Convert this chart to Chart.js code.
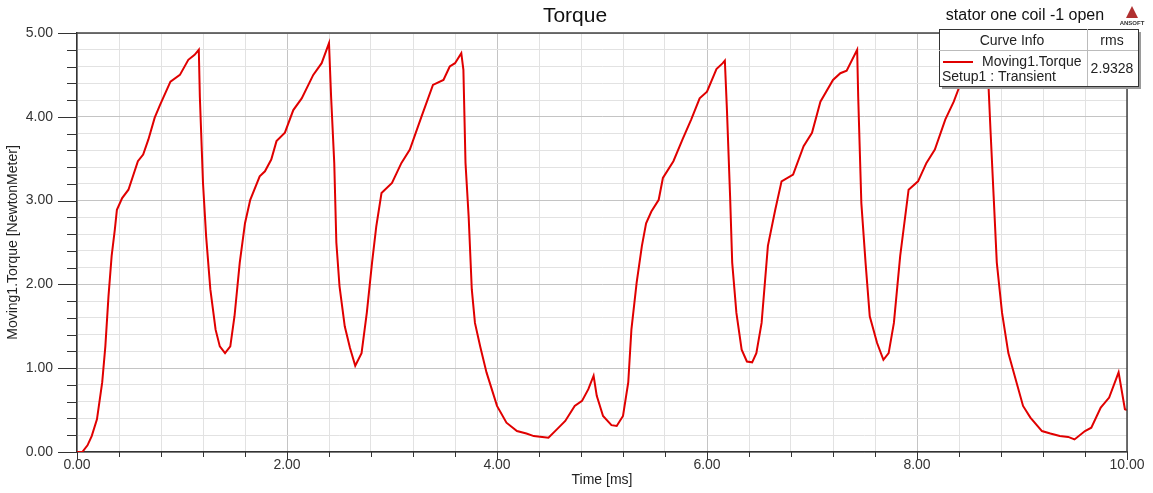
<!DOCTYPE html>
<html>
<head>
<meta charset="utf-8">
<script src="https://cdn.jsdelivr.net/npm/chart.js@4"></script>
<style>
  body { margin: 0; background: #fff; }
  #wrap { width: 1153px; height: 493px; position: relative; }
</style>
</head>
<body>
<div id="wrap"><canvas id="graph"></canvas></div>
<script>
// Time [ms]
const timeMs = [0, 0.05, 0.10, 0.14, 0.19, 0.24, 0.27, 0.30, 0.33, 0.36, 0.38, 0.43, 0.49, 0.58, 0.63, 0.68, 0.74, 0.79, 0.89, 0.98,
  1.06, 1.12, 1.16, 1.17, 1.20, 1.23, 1.27, 1.32, 1.36, 1.41, 1.46, 1.50, 1.55, 1.60, 1.65, 1.74, 1.79, 1.85, 1.90, 1.98,
  2.06, 2.14, 2.25, 2.33, 2.40, 2.42, 2.45, 2.47, 2.50, 2.55, 2.60, 2.65, 2.71, 2.76, 2.81, 2.85, 2.90, 3.00, 3.09, 3.17,
  3.28, 3.39, 3.49, 3.55, 3.60, 3.66, 3.68, 3.70, 3.73, 3.76, 3.79, 3.84, 3.90, 4.00, 4.09, 4.19, 4.28, 4.35, 4.43, 4.49,
  4.57, 4.65, 4.74, 4.81, 4.87, 4.92, 4.95, 5.01, 5.09, 5.14, 5.20, 5.25, 5.28, 5.33, 5.38, 5.42, 5.47, 5.54, 5.58, 5.68,
  5.77, 5.85, 5.93, 6.00, 6.09, 6.15, 6.17, 6.19, 6.22, 6.24, 6.28, 6.33, 6.38, 6.43, 6.47, 6.52, 6.58, 6.65, 6.71, 6.82,
  6.92, 7.00, 7.08, 7.20, 7.27, 7.33, 7.43, 7.44, 7.47, 7.51, 7.55, 7.62, 7.68, 7.73, 7.78, 7.84, 7.92, 8.01, 8.09, 8.17,
  8.27, 8.35, 8.41, 8.50, 8.60, 8.67, 8.68, 8.70, 8.73, 8.76, 8.81, 8.87, 8.93, 9.01, 9.08, 9.19, 9.27, 9.36, 9.44, 9.50,
  9.60, 9.66, 9.75, 9.83, 9.92, 9.98, 10.00];

// Moving1.Torque [NewtonMeter]
const torque = [0, 0, 0.08, 0.19, 0.39, 0.83, 1.26, 1.86, 2.34, 2.65, 2.89, 3.03, 3.13, 3.47, 3.55, 3.73, 3.99, 4.14, 4.42, 4.50,
  4.68, 4.74, 4.80, 4.24, 3.21, 2.57, 1.94, 1.46, 1.26, 1.18, 1.26, 1.62, 2.26, 2.73, 3.01, 3.29, 3.35, 3.49, 3.71, 3.81,
  4.08, 4.22, 4.50, 4.64, 4.88, 4.24, 3.45, 2.50, 1.98, 1.50, 1.24, 1.03, 1.18, 1.66, 2.26, 2.69, 3.09, 3.21, 3.45, 3.61,
  4.00, 4.38, 4.44, 4.60, 4.64, 4.76, 4.56, 3.45, 2.81, 1.94, 1.54, 1.26, 0.95, 0.55, 0.35, 0.25, 0.22, 0.19, 0.18, 0.17,
  0.27, 0.37, 0.55, 0.61, 0.75, 0.91, 0.67, 0.43, 0.32, 0.31, 0.43, 0.83, 1.46, 2.02, 2.46, 2.73, 2.87, 3.01, 3.27, 3.47,
  3.74, 3.97, 4.22, 4.30, 4.57, 4.64, 4.67, 4.08, 3.05, 2.26, 1.66, 1.22, 1.08, 1.07, 1.18, 1.54, 2.46, 2.89, 3.23, 3.31,
  3.65, 3.81, 4.18, 4.44, 4.52, 4.55, 4.80, 4.24, 2.97, 2.26, 1.62, 1.30, 1.10, 1.18, 1.54, 2.34, 3.13, 3.23, 3.45, 3.61,
  3.97, 4.18, 4.38, 4.52, 4.62, 4.80, 4.40, 3.84, 3.05, 2.26, 1.66, 1.18, 0.91, 0.55, 0.41, 0.25, 0.22, 0.19, 0.18, 0.15,
  0.25, 0.29, 0.53, 0.65, 0.95, 0.51, 0.50];

const chartTitle = 'Torque';
const subTitle = 'stator one coil -1 open';
const seriesName = 'Moving1.Torque';
const setupName = 'Setup1 : Transient';
const rmsValue = '2.9328';

const isMult = (v, m) => Math.abs(v / m - Math.round(v / m)) < 1e-6;
const fam = '"Liberation Sans", Arial, sans-serif';

// text, tick marks, frame and curve-info box
const decor = {
  id: 'decor',
  afterDraw(chart) {
    const ctx = chart.ctx;
    const a = chart.chartArea;
    const xs = chart.scales.x, ys = chart.scales.y;
    ctx.save();
    ctx.strokeStyle = '#333';
    ctx.lineWidth = 1;
    ctx.beginPath();
    ys.ticks.forEach(t => {
      const y = Math.round(ys.getPixelForValue(t.value)) + 0.5;
      const len = isMult(t.value, 1) ? 19 : 10;
      ctx.moveTo(a.left - len, y); ctx.lineTo(a.left, y);
    });
    xs.ticks.forEach(t => {
      const x = Math.round(xs.getPixelForValue(t.value)) + 0.5;
      const len = isMult(t.value, 2) ? 8 : 5;
      ctx.moveTo(x, a.bottom); ctx.lineTo(x, a.bottom + len);
    });
    ctx.stroke();
    // frame top/right
    ctx.strokeStyle = '#444';
    ctx.lineWidth = 1.5;
    ctx.beginPath();
    ctx.moveTo(a.left, a.top); ctx.lineTo(a.right, a.top); ctx.lineTo(a.right, a.bottom);
    ctx.stroke();

    // titles
    ctx.fillStyle = '#111';
    ctx.textBaseline = 'middle';
    ctx.textAlign = 'center';
    ctx.font = '21px ' + fam;
    ctx.fillText(chartTitle, 575, 16);
    ctx.font = '16px ' + fam;
    ctx.fillText(subTitle, 1025, 16);

    // ansoft logo
    ctx.fillStyle = '#b03030';
    ctx.beginPath();
    ctx.moveTo(1132, 6); ctx.lineTo(1126, 18); ctx.lineTo(1138, 18); ctx.closePath();
    ctx.fill();
    ctx.fillStyle = '#333';
    ctx.font = 'bold 6px ' + fam;
    ctx.fillText('ANSOFT', 1132, 23);

    // curve info box
    const bx = 939, by = 29, bw = 199, bh = 57;
    ctx.fillStyle = '#9a9a9a';
    ctx.fillRect(bx + 3, by + 3, bw, bh);
    ctx.fillStyle = '#fff';
    ctx.fillRect(bx, by, bw, bh);
    ctx.strokeStyle = '#333';
    ctx.lineWidth = 1;
    ctx.strokeRect(bx + 0.5, by + 0.5, bw, bh);
    ctx.strokeStyle = '#bbb';
    ctx.beginPath();
    ctx.moveTo(bx, by + 21.5); ctx.lineTo(bx + bw, by + 21.5);
    ctx.moveTo(1087.5, by); ctx.lineTo(1087.5, by + bh);
    ctx.stroke();
    ctx.fillStyle = '#222';
    ctx.font = '14px ' + fam;
    ctx.textAlign = 'center';
    ctx.fillText('Curve Info', 1012, by + 12);
    ctx.fillText('rms', 1112, by + 12);
    ctx.fillText(rmsValue, 1112, by + 40);
    ctx.textAlign = 'left';
    ctx.fillText(seriesName, 982, by + 33);
    ctx.fillText(setupName, 942, by + 48);
    ctx.strokeStyle = '#e00000';
    ctx.lineWidth = 2;
    ctx.beginPath();
    ctx.moveTo(943, by + 33); ctx.lineTo(973, by + 33);
    ctx.stroke();
    ctx.restore();
  }
};

const tickFont = { family: fam, size: 14 };

new Chart(document.getElementById('graph'), {
  type: 'line',
  data: {
    datasets: [{
      label: seriesName,
      data: timeMs.map((t, i) => ({ x: t, y: torque[i] })),
      borderColor: '#e00000',
      borderWidth: 2,
      pointRadius: 0,
      tension: 0,
      fill: false
    }]
  },
  options: {
    responsive: true,
    maintainAspectRatio: false,
    animation: false,
    layout: { padding: { top: 33, right: 26, left: 0, bottom: 0 } },
    plugins: { legend: { display: false }, title: { display: false }, tooltip: { enabled: false } },
    scales: {
      x: {
        type: 'linear',
        min: 0, max: 10,
        afterFit: s => { s.height = 41; },
        ticks: {
          stepSize: 0.4, autoSkip: false, maxRotation: 0, padding: 5,
          color: '#333', font: tickFont,
          callback: v => isMult(v, 2) ? v.toFixed(2) : ''
        },
        grid: {
          drawTicks: false,
          color: c => isMult(c.tick.value, 2) ? '#c4c4c4' : '#e2e2e2'
        },
        border: { display: true, color: '#333', width: 1.5 },
        title: { display: true, text: 'Time [ms]', color: '#222', font: tickFont, padding: { top: 0, bottom: 4 } }
      },
      y: {
        min: 0, max: 5,
        afterFit: s => { s.width = 77; },
        ticks: {
          stepSize: 0.2, autoSkip: false, padding: 24,
          color: '#333', font: tickFont,
          callback: v => isMult(v, 1) ? v.toFixed(2) : ''
        },
        grid: {
          drawTicks: false,
          color: c => isMult(c.tick.value, 1) ? '#c4c4c4' : '#e2e2e2'
        },
        border: { display: true, color: '#333', width: 1.5 },
        title: { display: true, text: 'Moving1.Torque [NewtonMeter]', color: '#222',
          font: { family: fam, size: 14 }, padding: { top: 5, bottom: 0 } }
      }
    }
  },
  plugins: [decor]
});
</script>
</body>
</html>
